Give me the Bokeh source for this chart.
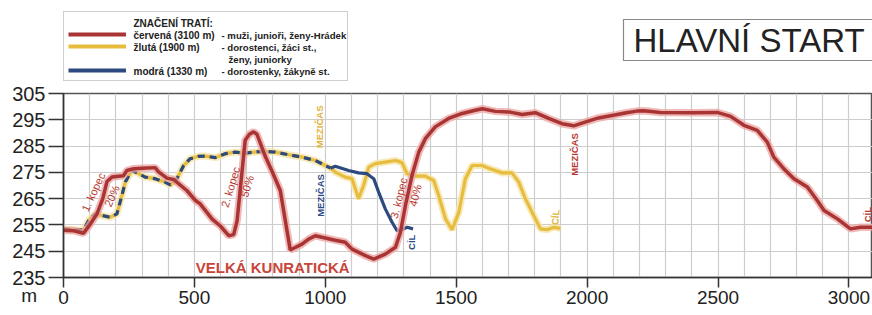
from bokeh.plotting import figure
from bokeh.layouts import column
from bokeh.models import Range1d, FixedTicker, SingleIntervalTicker, Label, Legend, LegendItem
from bokeh.embed import file_html
from bokeh.resources import INLINE

# ---------------- data ----------------
red_x = [0, 40, 76, 100, 128, 150, 166, 185, 229, 242, 268, 300, 350, 363, 395, 420, 471, 504,
         522, 567, 600, 631, 650, 663, 694, 710, 726, 739, 771, 796, 828, 850, 866, 885, 911,
         936, 962, 987, 1038, 1076, 1102, 1153, 1185, 1229, 1268, 1287, 1306, 1331, 1357, 1382,
         1420, 1471, 1523, 1573, 1600, 1650, 1701, 1752, 1802, 1853, 1904, 1949, 1995, 2044,
         2105, 2150, 2190, 2216, 2280, 2407, 2497, 2548, 2599, 2650, 2688, 2713, 2751, 2790,
         2841, 2879, 2905, 2956, 3006, 3044, 3100]
red_y = [253.0, 252.8, 251.8, 255.0, 259.2, 265.0, 271.5, 273.2, 273.7, 275.7, 276.4, 276.6,
         276.8, 275.2, 272.8, 272.3, 268.1, 264.3, 263.0, 257.3, 254.5, 250.9, 251.3, 256.6,
         287.2, 289.5, 290.4, 289.5, 281.0, 275.5, 268.1, 255.0, 245.5, 246.4, 247.7, 249.6,
         250.9, 250.3, 249.2, 248.4, 245.8, 243.3, 242.0, 243.9, 246.5, 252.2, 262.4, 273.8,
         282.7, 287.8, 292.3, 295.5, 297.4, 298.6, 299.2, 298.2, 298.0, 297.0, 297.7, 295.5,
         293.5, 292.7, 294.2, 295.7, 296.8, 297.7, 298.3, 298.4, 297.8, 297.7, 297.8, 296.3,
         292.9, 291.0, 286.5, 280.8, 276.4, 272.6, 269.4, 264.3, 260.5, 257.3, 253.5, 254.1,
         254.1]

yellow_x = [0, 45, 76, 96, 121, 146, 178, 204, 223, 236, 261, 287, 312, 350, 388, 408, 433,
            459, 484, 516, 541, 580, 618, 656, 694, 758, 809, 860, 911, 962, 1000, 1020,
            1038, 1076, 1102, 1127, 1146, 1166, 1191, 1229, 1268, 1293, 1312, 1344, 1382,
            1414, 1433, 1459, 1484, 1510, 1535, 1561, 1599, 1624, 1675, 1713, 1739, 1764,
            1796, 1822, 1847, 1872, 1898]
yellow_y = [253.5, 253.2, 253.0, 256.7, 259.2, 258.6, 257.9, 259.2, 266.2, 271.3, 275.7,
            274.5, 273.2, 272.6, 271.3, 270.2, 272.6, 277.6, 280.2, 281.1, 281.2, 280.6,
            282.1, 282.7, 282.3, 283.0, 282.7, 281.7, 280.8, 279.5, 277.6, 276.6,
            275.1, 273.2, 272.6, 265.0, 270.0, 277.0, 278.3, 278.9, 279.5, 278.7, 274.5,
            273.6, 273.6, 271.9, 266.2, 257.3, 253.2, 259.8, 272.6, 277.6, 277.6, 276.6,
            274.8, 274.8, 271.3, 265.0, 258.6, 253.5, 253.2, 254.1, 253.7]

blue_x = [0, 45, 76, 96, 121, 146, 178, 204, 223, 236, 261, 287, 312, 350, 388, 408, 433,
          459, 484, 516, 541, 580, 618, 656, 694, 758, 809, 860, 911, 962, 1000, 1020,
          1038, 1089, 1127, 1159, 1185, 1204, 1229, 1255, 1274, 1293, 1312, 1335]
blue_y = [253.5, 253.2, 253.0, 256.7, 259.2, 258.6, 257.9, 259.2, 266.2, 271.3, 275.7,
          274.5, 273.2, 272.6, 271.3, 270.2, 272.6, 277.6, 280.2, 281.1, 281.2, 280.6,
          282.1, 282.7, 282.3, 283.0, 282.7, 281.7, 280.8, 279.5, 277.6, 276.6,
          277.3, 275.7, 274.8, 274.5, 272.6, 267.4, 261.1, 256.0, 252.8, 253.2, 254.1, 253.5]
shared_until = 1020  # blue and yellow run on the same path up to here

x_ticks = [0, 500, 1000, 1500, 2000, 2500, 3000]
y_ticks = [235, 245, 255, 265, 275, 285, 295, 305]

legend_col1 = ["ZNAČENÍ TRATÍ:", "červená (3100 m)", "žlutá (1900 m)", "", "modrá (1330 m)"]
legend_col2 = ["", "- muži, junioři, ženy-Hrádek", "- dorostenci, žáci st.,", "ženy, juniorky",
               "- dorostenky, žákyně st."]

# text, distance, altitude, angle(deg), colour key
notes = [
    ("1. kopec", 114, 267.5, 65, "red"), ("20%", 185, 266.0, 65, "red"),
    ("2. kopec", 638, 269.4, 73, "red"), ("50%", 701, 269.7, 73, "red"),
    ("3. kopec", 1280, 265.2, 76, "red"), ("40%", 1344, 266.2, 76, "red"),
    ("MEZIČAS", 977, 292.3, 90, "yellow"), ("MEZIČAS", 983, 266.2, 90, "blue"),
    ("CÍL", 1331, 248.4, 90, "blue"), ("CÍL", 1879, 257.9, 85, "yellow"),
    ("MEZIČAS", 1951, 281.8, 90, "red"), ("CÍL", 3070, 258.9, 90, "red"),
]

# ---------------- style ----------------
FONT = "Liberation Sans"
RED, RED_HALO = "#a93434", "#eaa3a0"
YEL, YEL_HALO = "#e6bd3f", "#f6e4a8"
BLUE = "#2c4a7f"
TXT = {"red": "#b8372f", "yellow": "#e0b33a", "blue": "#2b4a86"}
W = 872
LEFT = 63      # frame left edge (shared by both stacked figures)
TOP_H = 81     # header strip height
NAN = float("nan")

# ================= header strip (legend + title box) =================
# x/y data units of this strip equal page pixels (x from LEFT, y downward)
top = figure(width=W, height=TOP_H, x_range=Range1d(LEFT, W), y_range=Range1d(TOP_H, 0),
             x_axis_type=None, y_axis_type=None, output_backend="svg", toolbar_location=None,
             min_border=0, min_border_left=LEFT, min_border_right=0, min_border_top=0,
             min_border_bottom=0)
top.outline_line_color = None
top.grid.visible = False
top.background_fill_color = "white"
top.border_fill_color = "white"

sw_blank = top.line(x=[NAN], y=[NAN], line_alpha=0)
sw_red = top.line(x=[NAN], y=[NAN], line_color=RED, line_width=4)
sw_yel = top.line(x=[NAN], y=[NAN], line_color=YEL, line_width=4)
sw_blue = top.line(x=[NAN], y=[NAN], line_color=BLUE, line_width=4)

legend = Legend(items=[LegendItem(label=" ", renderers=[sw_blank]),
                       LegendItem(label=" ", renderers=[sw_red]),
                       LegendItem(label=" ", renderers=[sw_yel]),
                       LegendItem(label=" ", renderers=[sw_blank]),
                       LegendItem(label=" ", renderers=[sw_blue])],
                location=(0, 0), orientation="vertical", padding=4, spacing=0,
                glyph_width=58, glyph_height=12, label_height=12, label_width=212,
                label_standoff=5, label_text_font_size="8px", margin=0,
                border_line_color="#a0a0a0", border_line_width=1,
                background_fill_color="white", background_fill_alpha=0)
top.add_layout(legend)

rows_y = [23, 35, 47, 59, 71]
for t1, t2, ry in zip(legend_col1, legend_col2, rows_y):
    if t1:
        top.add_layout(Label(x=133, y=ry, text=t1, text_baseline="middle", text_font=FONT,
                             text_font_size="10px", text_font_style="bold",
                             text_color="#222222"))
    if t2:
        x2 = 221 if t2.startswith("-") else 228
        top.add_layout(Label(x=x2, y=ry, text=t2, text_baseline="middle", text_font=FONT,
                             text_font_size="9.6px", text_font_style="bold",
                             text_color="#222222"))

top.add_layout(Label(x=623, y=39.5, text="HLAVNÍ START", text_baseline="middle",
                     text_font=FONT, text_font_size="33px", text_color="#222222",
                     background_fill_color="white", border_line_color="#888888",
                     border_line_width=1.2, padding=dict(left=10, right=22, top=2, bottom=2)))

# ================= elevation profile =================
p = figure(width=W, height=315 - TOP_H, x_range=Range1d(0, 3090), y_range=Range1d(235, 305),
           output_backend="svg", toolbar_location=None,
           min_border_left=LEFT, min_border_right=0, min_border_top=93 - TOP_H,
           min_border_bottom=38)
p.background_fill_color = "white"
p.border_fill_color = "white"
p.outline_line_color = "#555555"
p.outline_line_width = 1.5

p.xaxis.ticker = FixedTicker(ticks=x_ticks)
p.yaxis.ticker = FixedTicker(ticks=y_ticks)
for ax in (p.xaxis[0], p.yaxis[0]):
    ax.axis_line_color = "#333333"
    ax.axis_line_width = 1.5
    ax.major_tick_line_color = "#333333"
    ax.major_tick_line_width = 1.5
    ax.major_tick_in = 0
    ax.minor_tick_in = 0
    ax.minor_tick_out = 0
    ax.major_label_text_font = FONT
    ax.major_label_text_color = "#222222"
p.xaxis.major_tick_out = 10
p.xaxis.major_label_standoff = 3
p.xaxis.major_label_text_font_size = "19px"
p.yaxis.major_tick_out = 15
p.yaxis.major_label_standoff = 3
p.yaxis.major_label_text_font_size = "20px"

# unit label "m" sits in the tick-label row, left of the 0 tick
xa = p.xaxis[0]
xa.axis_label = "m" + "\u00a0" * 13
xa.axis_label_align = "start"
xa.axis_label_standoff = -22
xa.axis_label_text_font = FONT
xa.axis_label_text_font_style = "normal"
xa.axis_label_text_font_size = "19px"
xa.axis_label_text_color = "#222222"

p.xgrid.ticker = SingleIntervalTicker(interval=100)
p.ygrid.ticker = FixedTicker(ticks=y_ticks)
p.grid.grid_line_color = "#cdcdcd"
p.grid.grid_line_width = 1.2

k = next(i for i, v in enumerate(blue_x) if v >= shared_until) + 1
p.line(yellow_x, yellow_y, line_color=YEL_HALO, line_width=7, line_alpha=0.8)
p.line(yellow_x, yellow_y, line_color=YEL, line_width=3.2)
p.line(blue_x[:k], blue_y[:k], line_color=BLUE, line_width=3.2, line_dash="7 5")
p.line(blue_x[k - 1:], blue_y[k - 1:], line_color=BLUE, line_width=3.2)
p.line(red_x, red_y, line_color=RED_HALO, line_width=7.5, line_alpha=0.75)
p.line(red_x, red_y, line_color=RED, line_width=3.5)

for text, xv, yv, ang, col in notes:
    bold = "bold" if text in ("MEZIČAS", "CÍL") else "normal"
    size = "9.5px" if bold == "bold" else "11px"
    p.add_layout(Label(x=xv, y=yv, text=text, angle=ang, angle_units="deg",
                       text_align="center", text_baseline="middle", text_font=FONT,
                       text_font_size=size, text_font_style=bold, text_color=TXT[col]))

p.add_layout(Label(x=799, y=238.7, text="VELKÁ KUNRATICKÁ", text_align="center",
                   text_baseline="middle", text_font=FONT, text_font_size="15px",
                   text_font_style="bold", text_color="#c8453a"))

layout = column(top, p, spacing=0)
open("out.html", "w").write(file_html(layout, INLINE))
